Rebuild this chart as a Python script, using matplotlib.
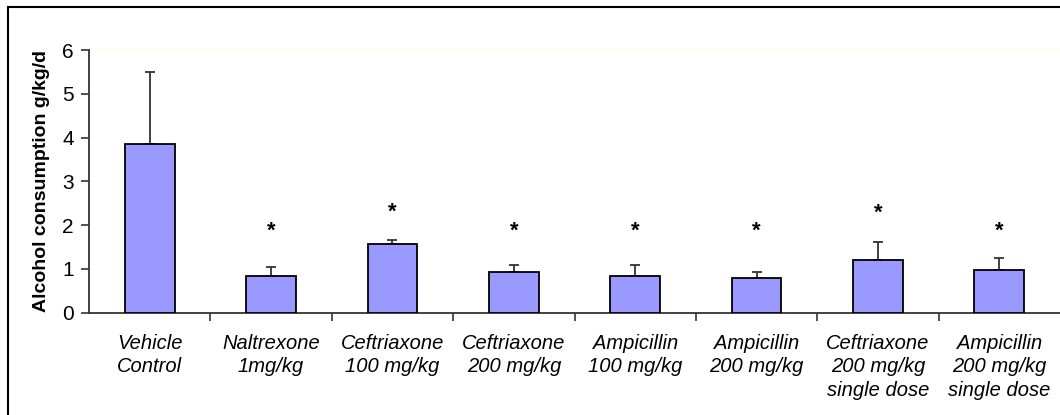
import numpy as np
import matplotlib.pyplot as plt
from matplotlib.lines import Line2D

plt.rcParams['font.family'] = ['Liberation Sans', 'DejaVu Sans']

# Data
groups = ['Vehicle\nControl', 'Naltrexone\n1mg/kg', 'Ceftriaxone\n100 mg/kg',
          'Ceftriaxone\n200 mg/kg', 'Ampicillin\n100 mg/kg', 'Ampicillin\n200 mg/kg',
          'Ceftriaxone\n200 mg/kg\nsingle dose', 'Ampicillin\n200 mg/kg\nsingle dose']
means = [3.85, 0.84, 1.56, 0.92, 0.84, 0.79, 1.20, 0.975]
errs = [1.65, 0.20, 0.11, 0.17, 0.25, 0.13, 0.42, 0.285]
star_y = [None, 1.86, 2.29, 1.86, 1.86, 1.86, 2.28, 1.86]

fig = plt.figure(figsize=(10.6, 4.15), dpi=100)
ax = fig.add_axes([0.084, 0.2465, 0.916, 0.633])

x = np.arange(len(groups))
ax.bar(x, means, width=0.41, color='#9999ff', edgecolor='black', linewidth=1.3,
       zorder=3)
ax.errorbar(x, means, yerr=[np.zeros(len(errs)), errs], fmt='none',
            ecolor='#333333', elinewidth=1.3, capsize=3.3, capthick=1.3, zorder=2)

for xi, sy in zip(x, star_y):
    if sy is not None:
        ax.text(xi, sy, '*', ha='center', va='center', fontsize=16,
                fontweight='bold')

ax.axhline(6, color='#ffffcc', linewidth=1.2, zorder=1)

ax.set_xlim(-0.5, len(groups) - 0.5)
ax.set_ylim(0, 6)
ax.set_yticks(range(0, 7))
ax.set_xticks(x)
ax.set_xticklabels(groups, style='italic', fontsize=14.5, linespacing=1.3)
ax.set_xticks(np.arange(0.5, len(groups) - 0.5), minor=True)
ax.tick_params(axis='x', which='major', length=0, pad=15)
ax.tick_params(axis='x', which='minor', length=6, width=1.2, color='#333333')
ax.tick_params(axis='y', length=6, width=1.2, color='#333333', labelsize=15, pad=5)

for s in ['top', 'right']:
    ax.spines[s].set_visible(False)
for s in ['left', 'bottom']:
    ax.spines[s].set_color('#333333')
    ax.spines[s].set_linewidth(1.3)

ax.set_ylabel('Alcohol consumption g/kg/d', fontsize=14, fontweight='bold')
ax.yaxis.set_label_coords(-0.04, 0.5)

# chart frame (top and left edges visible)
fig.add_artist(Line2D([8 / 1060, 1], [1 - 7 / 415, 1 - 7 / 415],
                      transform=fig.transFigure, color='black', linewidth=1.5))
fig.add_artist(Line2D([8 / 1060, 8 / 1060], [0, 1 - 7 / 415],
                      transform=fig.transFigure, color='black', linewidth=1.5))

fig.savefig('out.png', dpi=100)
